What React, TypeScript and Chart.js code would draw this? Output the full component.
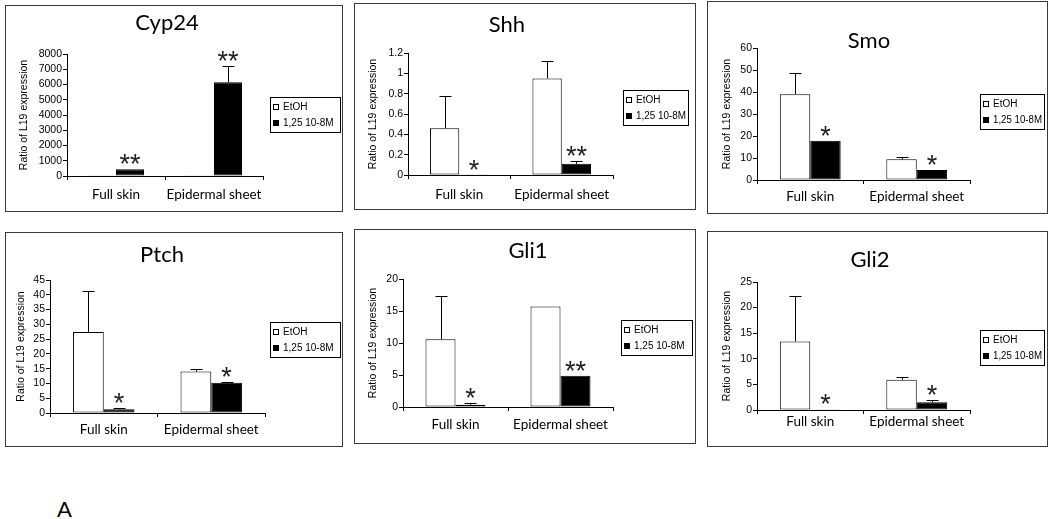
import React, { useEffect, useRef } from "react";
import { Chart, registerables } from "chart.js";

Chart.register(...registerables);

// ---------- data ----------
const categories = ["Full skin", "Epidermal sheet"];
const seriesLabels = ["EtOH", "1,25 10-8M"];
const yAxisTitle = "Ratio of L19 expression";
const figureLabel = "A";

const cyp24EtOH = [10, 15];
const cyp24EtOHErr = [0, 0];
const cyp24Vd = [450, 6150];
const cyp24VdErr = [0, 1080];
const cyp24Sig = ["**", "**"];
const cyp24Ticks = [0, 1000, 2000, 3000, 4000, 5000, 6000, 7000, 8000];

const shhEtOH = [0.46, 0.95];
const shhEtOHErr = [0.32, 0.17];
const shhVd = [0.003, 0.11];
const shhVdErr = [0, 0.025];
const shhSig = ["*", "**"];
const shhTicks = [0, 0.2, 0.4, 0.6, 0.8, 1, 1.2];

const smoEtOH = [39, 9.4];
const smoEtOHErr = [9.8, 1.1];
const smoVd = [17.8, 4.5];
const smoVdErr = [0, 0];
const smoSig = ["*", "*"];
const smoTicks = [0, 10, 20, 30, 40, 50, 60];

const ptchEtOH = [27.4, 14];
const ptchEtOHErr = [13.8, 1.0];
const ptchVd = [1.3, 10.2];
const ptchVdErr = [0.3, 0.4];
const ptchSig = ["*", "*"];
const ptchTicks = [0, 5, 10, 15, 20, 25, 30, 35, 40, 45];

const gli1EtOH = [10.6, 15.7];
const gli1EtOHErr = [6.7, 0];
const gli1Vd = [0.35, 4.9];
const gli1VdErr = [0.35, 0];
const gli1Sig = ["*", "**"];
const gli1Ticks = [0, 5, 10, 15, 20];

const gli2EtOH = [13.4, 5.9];
const gli2EtOHErr = [8.9, 0.6];
const gli2Vd = [0.15, 1.5];
const gli2VdErr = [0, 0.45];
const gli2Sig = ["*", "*"];
const gli2Ticks = [0, 5, 10, 15, 20, 25];

// ---------- layout (page pixel coordinates) ----------
type PanelDef = {
  title: string;
  etoh: number[];
  etohErr: number[];
  vd: number[];
  vdErr: number[];
  sig: string[];
  ticks: number[];
  box: [number, number, number, number];
  plot: [number, number, number, number];
  titlePos: [number, number];
  yTitleX: number;
  legend: [number, number, number];
  xPad: number;
};

const panels: PanelDef[] = [
  {
    title: "Cyp24", etoh: cyp24EtOH, etohErr: cyp24EtOHErr, vd: cyp24Vd, vdErr: cyp24VdErr, sig: cyp24Sig, ticks: cyp24Ticks,
    box: [5, 5, 342, 211], plot: [67, 54, 263, 176], titlePos: [167, 30], yTitleX: 24, legend: [270, 97, 70], xPad: 7,
  },
  {
    title: "Shh", etoh: shhEtOH, etohErr: shhEtOHErr, vd: shhVd, vdErr: shhVdErr, sig: shhSig, ticks: shhTicks,
    box: [354, 3, 695, 209], plot: [408, 53, 613, 175], titlePos: [507, 32], yTitleX: 373, legend: [623, 90, 65], xPad: 8,
  },
  {
    title: "Smo", etoh: smoEtOH, etohErr: smoEtOHErr, vd: smoVd, vdErr: smoVdErr, sig: smoSig, ticks: smoTicks,
    box: [707, 1, 1047, 213], plot: [757, 48, 970, 180], titlePos: [869, 48], yTitleX: 727, legend: [980, 94, 64], xPad: 5,
  },
  {
    title: "Ptch", etoh: ptchEtOH, etohErr: ptchEtOHErr, vd: ptchVd, vdErr: ptchVdErr, sig: ptchSig, ticks: ptchTicks,
    box: [5, 232, 342, 446], plot: [50, 280, 265, 413], titlePos: [162, 262], yTitleX: 21, legend: [270, 322, 70], xPad: 5,
  },
  {
    title: "Gli1", etoh: gli1EtOH, etohErr: gli1EtOHErr, vd: gli1Vd, vdErr: gli1VdErr, sig: gli1Sig, ticks: gli1Ticks,
    box: [354, 229, 695, 443], plot: [403, 279, 613, 407], titlePos: [528, 258], yTitleX: 373, legend: [621, 320, 71], xPad: 6,
  },
  {
    title: "Gli2", etoh: gli2EtOH, etohErr: gli2EtOHErr, vd: gli2Vd, vdErr: gli2VdErr, sig: gli2Sig, ticks: gli2Ticks,
    box: [707, 231, 1047, 446], plot: [757, 282, 970, 410], titlePos: [870, 267], yTitleX: 727, legend: [980, 330, 64], xPad: 0,
  },
];

const AXIS_FONT = "Liberation Sans";
const LABEL_FONT = "Lato";

// error bars drawn through the y scale
const errorBarPlugin = {
  id: "errorBars",
  afterDatasetsDraw(chart: any) {
    const ctx = chart.ctx;
    const yScale = chart.scales.y;
    ctx.save();
    ctx.strokeStyle = "#000";
    ctx.lineWidth = 1;
    chart.data.datasets.forEach((ds: any, i: number) => {
      const meta = chart.getDatasetMeta(i);
      const errs: number[] = ds.errorBars || [];
      meta.data.forEach((el: any, j: number) => {
        const e = errs[j];
        if (!e) return;
        const v = ds.data[j];
        const x = Math.round(el.x) + 0.5;
        const y0 = yScale.getPixelForValue(v);
        const y1 = Math.round(yScale.getPixelForValue(v + e)) + 0.5;
        ctx.beginPath();
        ctx.moveTo(x, y0);
        ctx.lineTo(x, y1);
        ctx.moveTo(x - 6, y1);
        ctx.lineTo(x + 6, y1);
        ctx.stroke();
      });
    });
    ctx.restore();
  },
};

// significance asterisks above the treated bars
const sigPlugin = {
  id: "sigMarks",
  afterDatasetsDraw(chart: any) {
    const ctx = chart.ctx;
    const yScale = chart.scales.y;
    ctx.save();
    ctx.fillStyle = "#222";
    ctx.font = `27px "${AXIS_FONT}"`;
    ctx.textAlign = "center";
    ctx.textBaseline = "alphabetic";
    chart.data.datasets.forEach((ds: any, i: number) => {
      if (!ds.sig) return;
      const meta = chart.getDatasetMeta(i);
      const errs: number[] = ds.errorBars || [];
      meta.data.forEach((el: any, j: number) => {
        const s = ds.sig[j];
        if (!s) return;
        const top = yScale.getPixelForValue(ds.data[j] + (errs[j] || 0));
        ctx.fillText(s, el.x, top + 4);
      });
    });
    ctx.restore();
  },
};

function makeOverlayPlugin(p: PanelDef, cl: number, ct: number) {
  return {
    id: "overlay",
    afterDraw(chart: any) {
      const ctx = chart.ctx;
      ctx.save();
      // title
      ctx.fillStyle = "#000";
      ctx.font = `22px "${LABEL_FONT}"`;
      ctx.textAlign = "center";
      ctx.textBaseline = "alphabetic";
      ctx.fillText(p.title, p.titlePos[0] - cl, p.titlePos[1] - ct);
      // legend
      const lx = Math.round(p.legend[0] - cl);
      const ly = Math.round(p.legend[1] - ct);
      const lw = p.legend[2];
      const lh = 35;
      ctx.strokeStyle = "#000";
      ctx.lineWidth = 1;
      ctx.strokeRect(lx + 0.5, ly + 0.5, lw, lh);
      ctx.font = `10px "${AXIS_FONT}"`;
      ctx.textAlign = "left";
      ctx.textBaseline = "middle";
      chart.data.datasets.forEach((ds: any, i: number) => {
        const cy = ly + 10 + i * 16;
        ctx.fillStyle = ds.backgroundColor;
        ctx.fillRect(lx + 3, cy - 3, 6, 6);
        ctx.strokeStyle = "#000";
        ctx.strokeRect(lx + 3.5, cy - 2.5, 5, 5);
        ctx.fillStyle = "#000";
        ctx.fillText(ds.label, lx + 13, cy + 0.5, lw - 15);
      });
      ctx.restore();
    },
  };
}

function Panel({ p }: { p: PanelDef }) {
  const ref = useRef<HTMLCanvasElement>(null);
  const [bl, bt, br, bb] = p.box;
  const cl = bl + 1;
  const ct = bt + 1;
  const cw = br - bl - 1;
  const ch = bb - bt - 1;

  useEffect(() => {
    const [pl, pt, pr, pb] = p.plot;
    const chart = new Chart(ref.current as HTMLCanvasElement, {
      type: "bar",
      data: {
        labels: categories,
        datasets: [
          {
            label: seriesLabels[0],
            data: p.etoh,
            errorBars: p.etohErr,
            backgroundColor: "#ffffff",
            borderColor: "#000000",
            borderWidth: 1,
            borderSkipped: false,
            categoryPercentage: 0.5714,
            barPercentage: 1,
          } as any,
          {
            label: seriesLabels[1],
            data: p.vd,
            errorBars: p.vdErr,
            sig: p.sig,
            backgroundColor: "#000000",
            borderColor: "#000000",
            borderWidth: 1,
            borderSkipped: false,
            categoryPercentage: 0.5714,
            barPercentage: 1,
          } as any,
        ],
      },
      options: {
        responsive: false,
        animation: false,
        events: [],
        layout: { padding: { left: 0, top: pt - ct, right: cl + cw - pr, bottom: 0 } },
        plugins: {
          legend: { display: false },
          title: { display: false },
          tooltip: { enabled: false },
        },
        scales: {
          x: {
            grid: { offset: true, drawOnChartArea: false, drawTicks: true, tickLength: 4, color: "#000" },
            border: { display: true, color: "#000", width: 1 },
            ticks: { font: { family: LABEL_FONT, size: 13.5 }, color: "#000", padding: p.xPad, maxRotation: 0, autoSkip: false },
            afterFit: (s: any) => {
              s.height = ct + ch - pb;
            },
          },
          y: {
            min: 0,
            max: p.ticks[p.ticks.length - 1],
            afterBuildTicks: (s: any) => {
              s.ticks = p.ticks.map((v) => ({ value: v }));
            },
            grid: { drawOnChartArea: false, drawTicks: true, tickLength: 4, color: "#000" },
            border: { display: true, color: "#000", width: 1 },
            ticks: {
              font: { family: AXIS_FONT, size: 10.5 },
              color: "#000",
              padding: 1,
              autoSkip: false,
              callback: (v: any) => String(v),
            },
            title: {
              display: true,
              text: yAxisTitle,
              font: { family: AXIS_FONT, size: 10.5 },
              color: "#000",
              padding: { top: p.yTitleX - cl - 6, bottom: 0 },
            },
            afterFit: (s: any) => {
              s.width = pl - cl;
            },
          },
        },
      } as any,
      plugins: [errorBarPlugin, sigPlugin, makeOverlayPlugin(p, cl, ct)],
    });
    return () => chart.destroy();
  }, []);

  return (
    <div
      style={{
        position: "absolute",
        left: bl,
        top: bt,
        width: cw,
        height: ch,
        border: "1px solid #3a3a3a",
        background: "#fff",
      }}
    >
      <canvas ref={ref} width={cw} height={ch} style={{ display: "block", width: cw, height: ch }} />
    </div>
  );
}

export default function App() {
  return (
    <div style={{ position: "fixed", left: 0, top: 0, width: 1050, height: 519, background: "#fff", overflow: "hidden" }}>
      {panels.map((p) => (
        <Panel key={p.title} p={p} />
      ))}
      <div
        style={{
          position: "absolute",
          left: 57,
          top: 498,
          fontFamily: LABEL_FONT,
          fontSize: 22,
          lineHeight: "22px",
          color: "#000",
        }}
      >
        {figureLabel}
      </div>
    </div>
  );
}
